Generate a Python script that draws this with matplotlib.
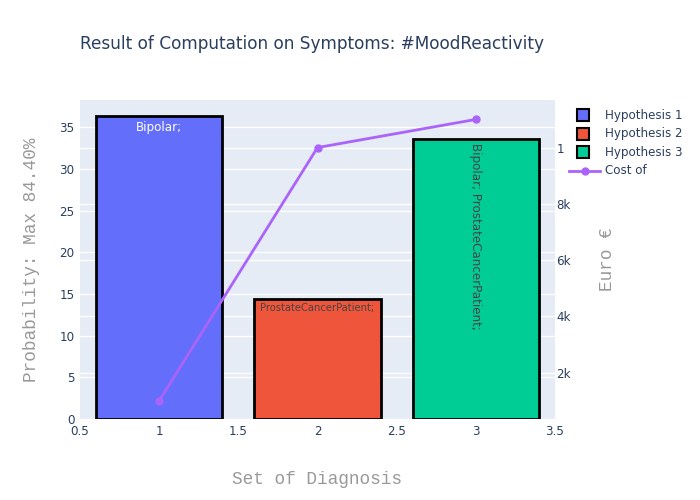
import matplotlib
matplotlib.use('Agg')
from matplotlib import pyplot as plt
from matplotlib.patches import Rectangle
from matplotlib.lines import Line2D

# data
positions = [1, 2, 3]
probabilities = [36.4, 14.4, 33.6]
hypotheses = ["Hypothesis 1", "Hypothesis 2", "Hypothesis 3"]
bar_texts = ["Bipolar;", "ProstateCancerPatient;", "Bipolar; ProstateCancerPatient;"]
costs = [1000, 10000, 11000]
cost_ticks = [2000, 4000, 6000, 8000, 10000]
cost_labels = ["2k", "4k", "6k", "8k", "1"]
line_name = "Cost of"

colors = ["#636efa", "#EF553B", "#00cc96"]
line_color = "#ab63fa"
font_color = "#2a3f5f"
grid_bg = "#E5ECF6"
title_gray = "#999999"

left_lim = (0, 38.3)
right_lim = (355, 11690)

W, H = 700, 500
fig = plt.figure(figsize=(7, 5), dpi=100)
pos = [80 / W, 1 - 419 / H, 475 / W, 319 / H]


def fx(px):
    return px / W


def fy(py):
    return 1 - py / H


# background axes carrying the right-axis grid, so bars cover it
axg = fig.add_axes(pos)
axg.set_facecolor(grid_bg)
axg.set_xlim(0.5, 3.5)
axg.set_ylim(*right_lim)
for v in cost_ticks:
    axg.axhline(v, color="white", lw=1)
axg.set_xticks([])
axg.set_yticks([])
for s in axg.spines.values():
    s.set_visible(False)

ax = fig.add_axes(pos)
ax.patch.set_alpha(0)
ax.set_axisbelow(True)
ax.bar(positions, probabilities, width=0.8, color=colors, edgecolor="black", linewidth=2, zorder=2)
ax.set_xlim(0.5, 3.5)
ax.set_ylim(*left_lim)
ax.set_xticks([0.5, 1, 1.5, 2, 2.5, 3, 3.5])
ax.set_xticklabels(["0.5", "1", "1.5", "2", "2.5", "3", "3.5"])
ax.set_yticks(range(0, 36, 5))
ax.grid(axis="y", color="white", lw=1)
ax.tick_params(length=0, labelsize=8.6, labelcolor=font_color, pad=4)
for s in ax.spines.values():
    s.set_visible(False)

# texts inside the bars
ax.annotate(bar_texts[0], (positions[0], probabilities[0]), xytext=(0, -4), textcoords="offset points",
            ha="center", va="top", color="white", fontsize=8.6, zorder=3)
ax.annotate(bar_texts[1], (positions[1], probabilities[1]), xytext=(0, -3), textcoords="offset points",
            ha="center", va="top", color="#444444", fontsize=7.2, zorder=3)
ax.annotate(bar_texts[2], (positions[2], probabilities[2]), xytext=(0, -3), textcoords="offset points",
            ha="center", va="top", rotation=-90, color="#444444", fontsize=8.6, zorder=3)

ax.set_xlabel("Set of Diagnosis", family="Liberation Mono", fontsize=12.8, color=title_gray, labelpad=24)
ax.set_ylabel("Probability: Max 84.40%", family="Liberation Mono", fontsize=12.8, color=title_gray, labelpad=14)

ax2 = ax.twinx()
ax2.plot(positions, costs, color=line_color, lw=2, marker="o", markersize=5)
ax2.set_ylim(*right_lim)
ax2.set_yticks(cost_ticks)
ax2.set_yticklabels(cost_labels)
ax2.tick_params(length=0, labelsize=8.6, labelcolor=font_color, pad=1)
for s in ax2.spines.values():
    s.set_visible(False)
ax2.set_ylabel("Euro €", family="Liberation Mono", fontsize=12.8, color=title_gray, labelpad=20)

fig.text(fx(80), fy(44), "Result of Computation on Symptoms: #MoodReactivity",
         fontsize=12.2, color=font_color, va="center")

# legend drawn by hand to get plotly-like square swatches
for i, (name, c) in enumerate(zip(hypotheses, colors)):
    yc = 115.3 + i * 18.5
    fig.add_artist(Rectangle((fx(577), fy(yc + 6)), 12 / W, 12 / H, transform=fig.transFigure,
                             facecolor=c, edgecolor="black", lw=1.5))
    fig.text(fx(605), fy(yc), name, fontsize=8.6, color=font_color, va="center")
yl = 115.3 + 3 * 18.5
fig.add_artist(Line2D([fx(569), fx(600)], [fy(yl), fy(yl)], transform=fig.transFigure,
                      color=line_color, lw=2))
fig.add_artist(Line2D([fx(584.5)], [fy(yl)], transform=fig.transFigure, color=line_color,
                      marker="o", markersize=5))
fig.text(fx(605), fy(yl), line_name, fontsize=8.6, color=font_color, va="center")

fig.savefig("out.png", dpi=100)
